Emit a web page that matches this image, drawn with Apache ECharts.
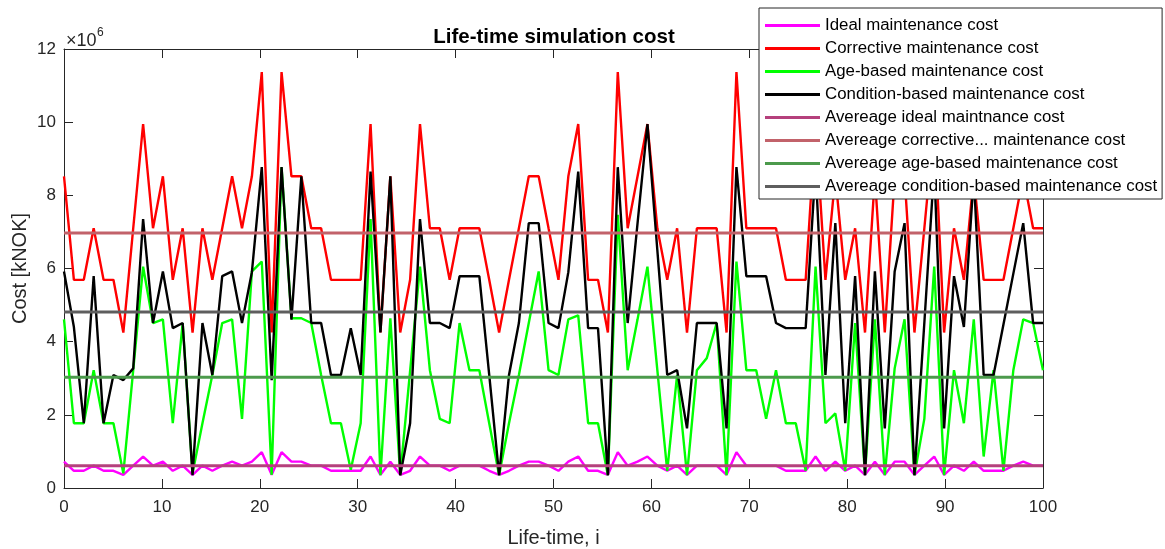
<!DOCTYPE html>
<html>
<head>
<meta charset="utf-8">
<script src="https://cdn.jsdelivr.net/npm/echarts@6/dist/echarts.min.js"></script>
<style>
html,body{margin:0;padding:0;background:#fff;}
#chart{width:1165px;height:549px;}
</style>
</head>
<body>
<div id="chart"></div>
<script>
// values in units of 10^6 kNOK, one per simulated life-time (100 points, 0..100)
const idealCost = [0.72,0.47,0.47,0.61,0.47,0.47,0.36,0.61,0.86,0.61,0.72,0.47,0.61,0.36,0.61,0.47,0.61,0.72,0.61,0.72,
0.98,0.36,0.98,0.72,0.72,0.61,0.61,0.47,0.47,0.47,0.47,0.86,0.36,0.72,0.36,0.47,0.86,0.61,0.61,0.47,
0.61,0.61,0.61,0.47,0.36,0.47,0.61,0.72,0.72,0.61,0.47,0.72,0.86,0.47,0.47,0.36,0.98,0.61,0.72,0.86,
0.61,0.47,0.61,0.36,0.61,0.61,0.61,0.36,0.98,0.61,0.61,0.61,0.61,0.47,0.47,0.47,0.86,0.47,0.72,0.47,
0.61,0.36,0.72,0.36,0.72,0.72,0.36,0.61,0.86,0.36,0.61,0.47,0.72,0.47,0.47,0.47,0.61,0.72,0.61,0.61];
const correctiveCost = [8.52,5.69,5.69,7.1,5.69,5.69,4.25,7.1,9.95,7.1,8.52,5.69,7.1,4.25,7.1,5.69,7.1,8.52,7.1,8.52,
11.37,4.25,11.37,8.52,8.52,7.1,7.1,5.69,5.69,5.69,5.69,9.95,4.25,8.52,4.25,5.69,9.95,7.1,7.1,5.69,
7.1,7.1,7.1,5.69,4.25,5.69,7.1,8.52,8.52,7.1,5.69,8.52,9.95,5.69,5.69,4.25,11.37,7.1,8.52,9.95,
7.1,5.69,7.1,4.25,7.1,7.1,7.1,4.25,11.37,7.1,7.1,7.1,7.1,5.69,5.69,5.69,9.95,5.69,8.52,5.69,
7.1,4.25,8.52,4.25,8.52,8.52,4.25,7.1,9.95,4.25,7.1,5.69,8.52,5.69,5.69,5.69,7.1,8.52,7.1,7.1];
const ageCost = [4.61,1.77,1.77,3.22,1.77,1.77,0.4,3.22,6.05,4.51,4.61,1.77,4.51,0.4,1.77,3.09,4.51,4.61,1.89,5.92,
6.19,0.36,8.77,4.64,4.64,4.51,3.09,1.77,1.77,0.5,1.77,7.35,0.35,4.64,0.35,3.2,6.05,3.22,1.89,1.77,
4.51,3.22,3.22,1.77,0.35,1.77,3.09,4.51,5.92,3.22,3.09,4.61,4.72,1.77,1.77,0.35,7.47,3.22,4.61,6.05,
3.22,0.47,3.09,0.35,3.22,3.55,4.51,0.35,6.19,3.22,3.22,1.89,3.22,1.77,1.77,0.47,6.05,1.77,2.04,0.47,
4.51,0.35,4.61,0.35,3.27,4.61,0.35,1.89,6.05,0.35,3.22,1.77,4.61,0.86,3.22,0.47,3.22,4.61,4.51,3.22];
const conditionCost = [5.92,4.4,1.77,5.79,1.77,3.09,2.95,3.27,7.35,4.51,5.92,4.37,4.51,0.35,4.51,3.09,5.79,5.92,4.51,5.9,
8.77,2.95,8.77,4.6,8.52,4.51,4.51,3.09,3.09,4.37,3.09,8.65,4.25,8.52,0.35,1.77,7.35,4.51,4.51,4.37,
5.79,5.79,5.79,3.09,0.35,3.09,4.51,7.24,7.24,4.51,4.37,5.9,8.65,4.37,4.37,0.35,8.77,4.51,7.24,9.95,
6.5,3.09,3.22,1.63,4.51,4.51,4.51,1.63,8.77,5.79,5.79,5.79,4.51,4.37,4.37,4.37,8.77,3.09,7.24,1.77,
5.79,0.35,5.92,1.63,5.92,7.24,0.35,4.51,8.77,1.63,5.79,4.4,8.52,3.09,3.09,4.47,5.86,7.24,4.51,4.51];
const avgIdeal = 0.61, avgCorrective = 6.97, avgAge = 3.03, avgCondition = 4.81;
const seriesNames = ['Ideal maintenance cost','Corrective maintenance cost','Age-based maintenance cost','Condition-based maintenance cost',
  'Avereage ideal maintnance cost','Avereage corrective... maintenance cost','Avereage age-based maintenance cost','Avereage condition-based maintenance cost'];
const xTicks = [0,10,20,30,40,50,60,70,80,90,100];
const yTicks = [0,2,4,6,8,10,12];

const N = idealCost.length;
const lifeTime = idealCost.map((_, i) => i * 100 / (N - 1));
const pair = arr => arr.map((v, i) => [lifeTime[i], v]);
const flat = v => [[0, v], [100, v]];

const FONT = '"Liberation Sans", Arial, Helvetica, sans-serif';
const AX = '#262626';
const colors = ['#ff00ff','#ff0000','#00ff00','#000000','#b5407c','#c2626a','#4c9a4c','#5e5e5e'];

const chart = echarts.init(document.getElementById('chart'), null, {renderer:'canvas'});
const baseAxis = {
  type:'value', min:0, splitLine:{show:false},
  axisLine:{show:true, onZero:false, lineStyle:{color:AX, width:1}},
  axisTick:{show:true, inside:true, length:9, lineStyle:{color:AX, width:1}}
};
const mkLine = (name, data, color, width) => ({
  name, type:'line', data, symbol:'none', showSymbol:false, animation:false,
  lineStyle:{color, width}, itemStyle:{color}, emphasis:{disabled:true}, silent:true
});
chart.setOption({
  animation:false,
  textStyle:{fontFamily:FONT},
  color:colors,
  title:{text:'Life-time simulation cost', left:549, top:22, textAlign:'center',
    textStyle:{fontFamily:FONT, fontSize:20.5, fontWeight:'bold', color:'#000'}},
  grid:{left:64, top:49, width:979, height:439, containLabel:false, outerBoundsMode:'none'},
  legend:{
    orient:'vertical', left:759, top:8, icon:'rect', itemWidth:55, itemHeight:3, itemGap:6,
    padding:[9,5,4,6], backgroundColor:'#fff', borderColor:AX, borderWidth:1, borderRadius:0,
    textStyle:{fontFamily:FONT, fontSize:16.85, color:'#000', padding:[0,0,0,0]},
    data:seriesNames, selectedMode:false, z:10
  },
  xAxis:[
    Object.assign({}, baseAxis, {max:100, interval:10, position:'bottom',
      axisLabel:{fontSize:17, color:AX, margin:11, fontFamily:FONT},
      name:'Life-time, i', nameLocation:'middle', nameGap:40,
      nameTextStyle:{fontSize:20, color:AX, fontFamily:FONT}}),
    Object.assign({}, baseAxis, {max:100, interval:10, position:'top', axisLabel:{show:false}})
  ],
  yAxis:[
    Object.assign({}, baseAxis, {max:12, interval:2, position:'left',
      axisLabel:{fontSize:17, color:AX, margin:8, fontFamily:FONT, formatter:v => String(v)},
      name:'Cost [kNOK]', nameLocation:'middle', nameGap:34, nameRotate:90, nameMoveOverlap:false,
      nameTextStyle:{fontSize:20, color:AX, fontFamily:FONT}}),
    Object.assign({}, baseAxis, {max:12, interval:2, position:'right', axisLabel:{show:false}})
  ],
  graphic:[
    {type:'text', left:66, top:32, style:{text:'×10', fontSize:18, fontFamily:FONT, fill:AX}, silent:true},
    {type:'text', left:97, top:27, style:{text:'6', fontSize:12, fontFamily:FONT, fill:AX}, silent:true}
  ],
  series:[
    mkLine(seriesNames[0], pair(idealCost), colors[0], 2.4),
    mkLine(seriesNames[1], pair(correctiveCost), colors[1], 2.4),
    mkLine(seriesNames[2], pair(ageCost), colors[2], 2.4),
    mkLine(seriesNames[3], pair(conditionCost), colors[3], 2.4),
    mkLine(seriesNames[4], flat(avgIdeal), colors[4], 3),
    mkLine(seriesNames[5], flat(avgCorrective), colors[5], 3),
    mkLine(seriesNames[6], flat(avgAge), colors[6], 3),
    mkLine(seriesNames[7], flat(avgCondition), colors[7], 3)
  ]
});
</script>
</body>
</html>
